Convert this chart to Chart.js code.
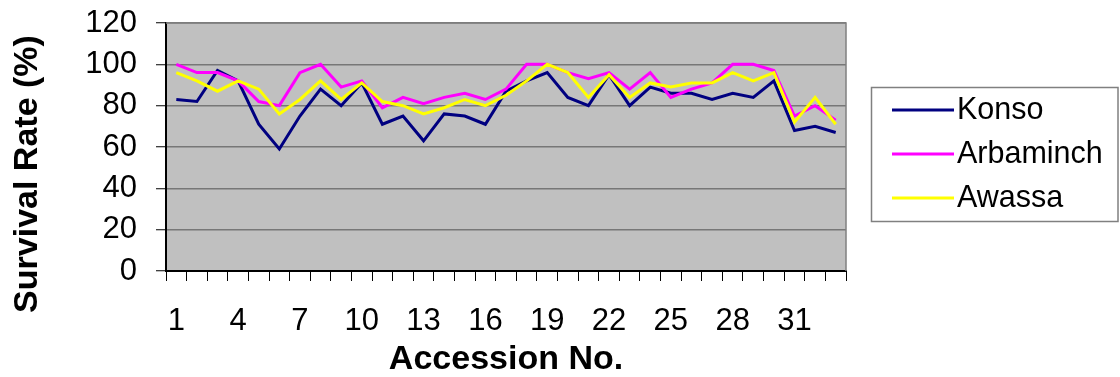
<!DOCTYPE html>
<html>
<head>
<meta charset="utf-8">
<script src="https://cdn.jsdelivr.net/npm/chart.js@4.4.1/dist/chart.umd.min.js"></script>
<style>
  html, body { margin: 0; padding: 0; background: #ffffff; }
  #wrap { width: 1120px; height: 377px; }
</style>
</head>
<body>
<div id="wrap"><canvas id="survival" width="1120" height="377"></canvas></div>
<script>
// Accession numbers along the x axis
const accessions = ['1','2','3','4','5','6','7','8','9','10','11','12','13','14','15','16','17',
                    '18','19','20','21','22','23','24','25','26','27','28','29','30','31','32','33'];
// Accession numbers that carry a printed tick label
const shownAccessions = ['1','4','7','10','13','16','19','22','25','28','31'];
// Survival rate (%) per accession at each site
const konso     = [83, 82, 97, 92, 71, 59, 75, 88, 80, 91, 71, 75, 63, 76, 75, 71, 87,
                   92, 96, 84, 80, 95, 80, 89, 86, 86, 83, 86, 84, 92, 68, 70, 67];
const arbaminch = [100, 96, 96, 92, 82, 80, 96, 100, 89, 92, 79, 84, 81, 84, 86, 83, 88,
                   100, 100, 96, 93, 96, 88, 96, 84, 88, 91, 100, 100, 97, 75, 80, 73];
const awassa    = [96, 92, 87, 92, 88, 76, 83, 92, 83, 91, 82, 80, 76, 79, 83, 80, 85,
                   92, 100, 96, 84, 95, 84, 91, 89, 91, 91, 96, 92, 96, 72, 84, 71];
// Value axis ticks
const yTicks = [0, 20, 40, 60, 80, 100, 120];

const FONT = '"Liberation Sans", Arial, sans-serif';

const series = [
  { label: 'Konso',     data: konso,     color: '#000080' },
  { label: 'Arbaminch', data: arbaminch, color: '#ff00ff' },
  { label: 'Awassa',    data: awassa,    color: '#ffff00' }
];

// Silver plot background with a grey frame on the top and right sides
const plotFrame = {
  id: 'plotFrame',
  beforeDraw(chart) {
    const { ctx, chartArea: a } = chart;
    ctx.save();
    ctx.fillStyle = '#c0c0c0';
    ctx.fillRect(a.left, a.top, a.right - a.left, a.bottom - a.top);
    ctx.restore();
  },
  beforeDatasetsDraw(chart) {
    const { ctx, chartArea: a } = chart;
    ctx.save();
    ctx.strokeStyle = '#808080';
    ctx.lineWidth = 1.5;
    ctx.beginPath();
    ctx.moveTo(a.left, a.top);
    ctx.lineTo(a.right, a.top);
    ctx.lineTo(a.right, a.bottom);
    ctx.stroke();
    ctx.restore();
  }
};

// Vertical axis title and boxed legend on the right
const sideText = {
  id: 'sideText',
  afterDraw(chart) {
    const { ctx } = chart;
    ctx.save();
    ctx.fillStyle = '#000';
    ctx.font = 'bold 34px ' + FONT;
    ctx.textAlign = 'center';
    ctx.textBaseline = 'middle';
    ctx.translate(28, 174);
    ctx.rotate(-Math.PI / 2);
    ctx.fillText('Survival Rate (%)', 0, 0);
    ctx.restore();

    ctx.save();
    ctx.strokeStyle = '#808080';
    ctx.lineWidth = 1.5;
    ctx.strokeRect(871.5, 87.5, 246.5, 134);
    ctx.font = '30.5px ' + FONT;
    ctx.textAlign = 'left';
    ctx.textBaseline = 'middle';
    chart.data.datasets.forEach((ds, i) => {
      const y = 110 + i * 44;
      ctx.strokeStyle = ds.borderColor;
      ctx.lineWidth = 3;
      ctx.beginPath();
      ctx.moveTo(892, y);
      ctx.lineTo(954, y);
      ctx.stroke();
      ctx.fillStyle = '#000';
      ctx.fillText(ds.label, 957, y + 1);
    });
    ctx.restore();
  }
};

new Chart(document.getElementById('survival'), {
  type: 'line',
  data: {
    labels: accessions,
    datasets: series.map((s, i) => ({
      label: s.label,
      data: s.data,
      borderColor: s.color,
      backgroundColor: s.color,
      borderWidth: 3,
      pointRadius: 0,
      pointHoverRadius: 0,
      tension: 0,
      fill: false,
      order: series.length - i
    }))
  },
  options: {
    responsive: false,
    animation: false,
    events: [],
    layout: { padding: { top: 23, right: 274, left: 0, bottom: 0 } },
    plugins: {
      legend: { display: false },
      tooltip: { enabled: false }
    },
    scales: {
      x: {
        type: 'category',
        offset: true,
        afterFit(scale) {
          scale.height = 106;
          scale.paddingLeft = 0;
          scale.paddingRight = 0;
        },
        grid: {
          display: true,
          offset: true,
          drawOnChartArea: false,
          drawTicks: true,
          tickLength: 10,
          color: '#000',
          tickColor: '#000',
          lineWidth: 1
        },
        border: { display: true, color: '#000', width: 2 },
        ticks: {
          autoSkip: false,
          maxRotation: 0,
          minRotation: 0,
          padding: 22,
          color: '#000',
          font: { family: FONT, size: 31 },
          callback(value, index) {
            const lab = accessions[index];
            return shownAccessions.includes(lab) ? lab : '';
          }
        },
        title: {
          display: true,
          text: 'Accession No.',
          color: '#000',
          padding: { top: 0, bottom: 0 },
          font: { family: FONT, size: 34, weight: 'bold', lineHeight: 1 }
        }
      },
      y: {
        min: yTicks[0],
        max: yTicks[yTicks.length - 1],
        afterFit(scale) {
          scale.width = 166;
          scale.paddingTop = 0;
          scale.paddingBottom = 0;
        },
        afterBuildTicks(scale) { scale.ticks = yTicks.map(v => ({ value: v })); },
        grid: {
          color: '#777',
          lineWidth: 1.5,
          drawTicks: true,
          tickLength: 10,
          tickColor: '#000',
          tickWidth: 1
        },
        border: { display: true, color: '#000', width: 2 },
        ticks: {
          autoSkip: false,
          padding: 19,
          color: '#000',
          font: { family: FONT, size: 31 }
        },
        title: { display: false }
      }
    }
  },
  plugins: [plotFrame, sideText]
});
</script>
</body>
</html>
